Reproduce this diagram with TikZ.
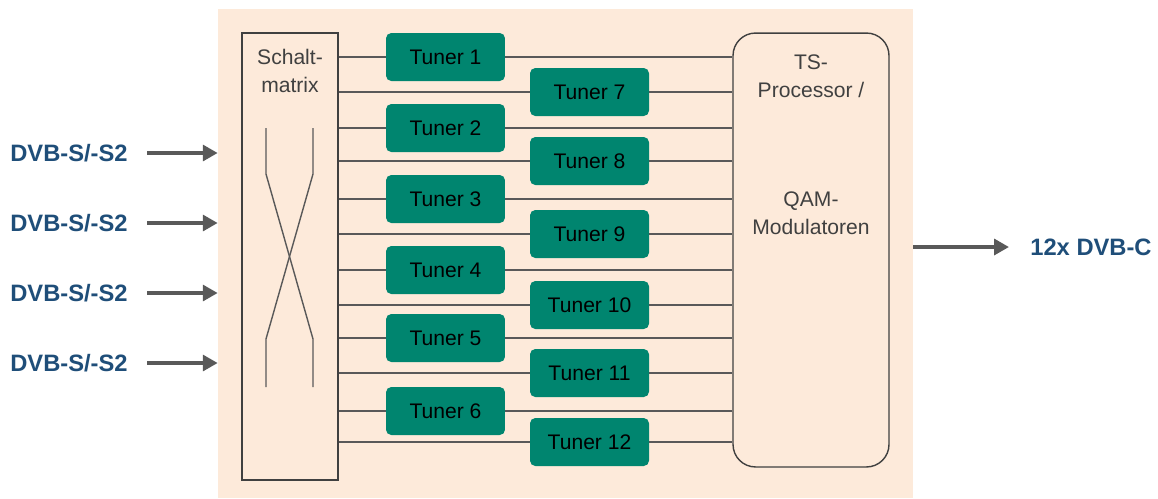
\documentclass[tikz,border=0pt]{standalone}
\usepackage{fontspec}
\setmainfont{Liberation Sans}
\usetikzlibrary{
    arrows.meta,
    calc
}
\definecolor{peach}{HTML}{FDEADA}
\definecolor{tunerteal}{HTML}{00856F}
\definecolor{wiregray}{HTML}{595959}
\definecolor{labelblue}{HTML}{1F4E79}
\definecolor{boxgray}{HTML}{404040}
\tikzset {
    backdrop/.style = {rectangle, fill = peach, inner sep = 0pt},
    tuner/.style = {
        rectangle, rounded corners = 3pt, fill = tunerteal,
        minimum width = 2.38cm, minimum height = 0.96cm,
        font = \fontsize{12}{14}\selectfont
    },
    unit/.style = {draw = boxgray, line width = 0.8pt, inner sep = 0pt},
    unit text/.style = {
        align = center, text = boxgray,
        font = \fontsize{12}{16}\selectfont
    },
    wire/.style = {draw = wiregray, line width = 0.9pt},
    signal/.style = {
        draw = wiregray, line width = 2.2pt,
        arrows = {-Triangle[length = 8.5pt, width = 9pt]}
    },
    signal text/.style = {
        inner sep = 0pt, text = labelblue,
        font = \fontsize{13.5}{16}\selectfont\bfseries
    }
}
\begin{document}
\begin{tikzpicture}[x = 0.02cm, y = -0.02cm]
            \useasboundingbox (0, 0) rectangle (1158, 498);
            \node (bg) [backdrop, minimum width = 13.9cm, minimum height = 9.78cm] at (565.5, 253.5) {};
            \node (sm) [unit, minimum width = 1.92cm, minimum height = 8.94cm] at (290, 256.5) {};
            \node (smtext) [unit text] at (290, 71) {Schalt-\\matrix};
            \node (proc) [unit, rounded corners = 0.45cm, minimum width = 3.12cm, minimum height = 8.68cm] at (811, 250) {};
            \node (proctop) [unit text] at (811, 76) {TS-\\Processor /};
            \node (procbot) [unit text] at (811, 213) {QAM-\\Modulatoren};
            \draw [wiregray, line width = 0.8pt] (266, 128) -- (266, 174) -- (313, 339) -- (313, 387);
            \draw [wiregray, line width = 0.8pt] (313, 128) -- (313, 174) -- (266, 339) -- (266, 387);
            \node (t1) [tuner] at (445.5, 57) {Tuner 1};
            \node (t2) [tuner] at (445.5, 128) {Tuner 2};
            \node (t3) [tuner] at (445.5, 199) {Tuner 3};
            \node (t4) [tuner] at (445.5, 270) {Tuner 4};
            \node (t5) [tuner] at (445.5, 338) {Tuner 5};
            \node (t6) [tuner] at (445.5, 411) {Tuner 6};
            \node (t7) [tuner] at (589.5, 92) {Tuner 7};
            \node (t8) [tuner] at (589.5, 161) {Tuner 8};
            \node (t9) [tuner] at (589.5, 234) {Tuner 9};
            \node (t10) [tuner] at (589.5, 305) {Tuner 10};
            \node (t11) [tuner] at (589.5, 373) {Tuner 11};
            \node (t12) [tuner] at (589.5, 442) {Tuner 12};
            \draw [wire] (sm.east |- t1) -- (t1.west);
            \draw [wire] (t1.east) -- (proc.west |- t1);
            \draw [wire] (sm.east |- t2) -- (t2.west);
            \draw [wire] (t2.east) -- (proc.west |- t2);
            \draw [wire] (sm.east |- t3) -- (t3.west);
            \draw [wire] (t3.east) -- (proc.west |- t3);
            \draw [wire] (sm.east |- t4) -- (t4.west);
            \draw [wire] (t4.east) -- (proc.west |- t4);
            \draw [wire] (sm.east |- t5) -- (t5.west);
            \draw [wire] (t5.east) -- (proc.west |- t5);
            \draw [wire] (sm.east |- t6) -- (t6.west);
            \draw [wire] (t6.east) -- (proc.west |- t6);
            \draw [wire] (sm.east |- t7) -- (t7.west);
            \draw [wire] (t7.east) -- (proc.west |- t7);
            \draw [wire] (sm.east |- t8) -- (t8.west);
            \draw [wire] (t8.east) -- (proc.west |- t8);
            \draw [wire] (sm.east |- t9) -- (t9.west);
            \draw [wire] (t9.east) -- (proc.west |- t9);
            \draw [wire] (sm.east |- t10) -- (t10.west);
            \draw [wire] (t10.east) -- (proc.west |- t10);
            \draw [wire] (sm.east |- t11) -- (t11.west);
            \draw [wire] (t11.east) -- (proc.west |- t11);
            \draw [wire] (sm.east |- t12) -- (t12.west);
            \draw [wire] (t12.east) -- (proc.west |- t12);
            \node (in1) [signal text, anchor = east] at (128, 153) {DVB-S/-S2};
            \node (in2) [signal text, anchor = east] at (128, 223) {DVB-S/-S2};
            \node (in3) [signal text, anchor = east] at (128, 293) {DVB-S/-S2};
            \node (in4) [signal text, anchor = east] at (128, 363) {DVB-S/-S2};
            \draw [signal] ($ (in1.east) + (19, 0) $) -- (bg.west |- in1);
            \draw [signal] ($ (in2.east) + (19, 0) $) -- (bg.west |- in2);
            \draw [signal] ($ (in3.east) + (19, 0) $) -- (bg.west |- in3);
            \draw [signal] ($ (in4.east) + (19, 0) $) -- (bg.west |- in4);
            \node (out) [signal text, anchor = west] at (1030, 247) {12x DVB-C};
            \draw [signal] (bg.east |- out) -- ($ (out.west) + (-21, 0) $);
        \end{tikzpicture}
\end{document}
